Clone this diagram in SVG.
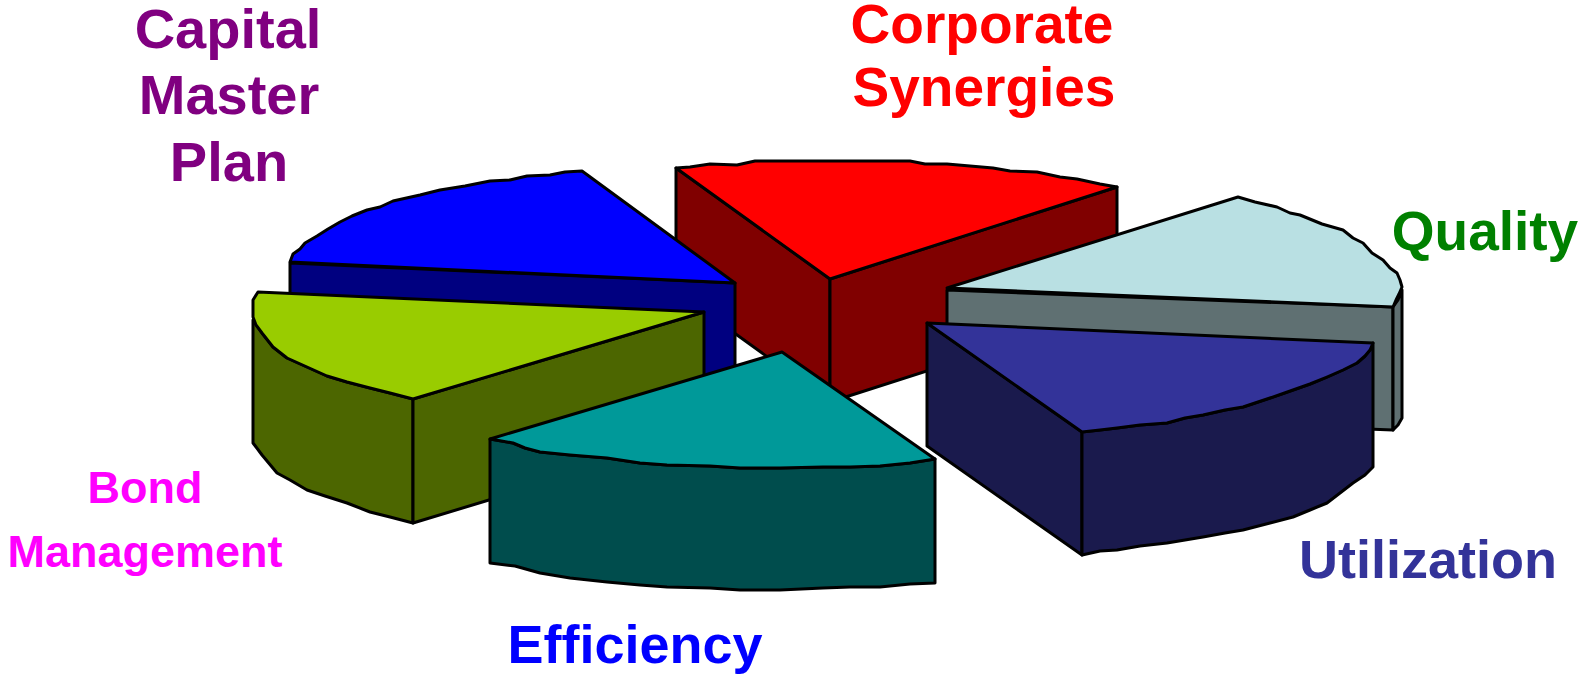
<svg xmlns="http://www.w3.org/2000/svg" width="1581" height="674" viewBox="0 0 1581 674">
<style>
  .e { stroke: #000; stroke-width: 3; stroke-linejoin: round; }
  .lbl { font-family: "Liberation Sans", Arial, sans-serif; font-weight: bold; text-anchor: middle; }
</style>
<rect width="1581" height="674" fill="#fff"/>
<g id="corporate-synergies">
  <polygon class="e" fill="#800000" points="676,168 830,279 830,402 676,291"/>
  <polygon class="e" fill="#800000" points="830,279 1117,187 1117,310 830,402"/>
  <path class="e" fill="#FF0000" d="M676,168 L690,167 710,164 737,165 755,161 910,161 925,164 947,164 993,168 1010,171 1037,172 1060,177 1077,179 1100,184 1117,187 L830,279 Z"/>
  <text class="lbl" fill="#FF0000" font-size="55" x="982" y="43">Corporate</text>
  <text class="lbl" fill="#FF0000" font-size="55" x="984" y="106">Synergies</text>
</g>
<g id="capital-master-plan">
  <polygon class="e" fill="#000080" points="290,263 735,283 735,406 290,386"/>
  <path class="e" fill="#0000FF" d="M290,262 L293,254 300,249 305,243 317,236 328,229 340,222 352,216 367,210 380,207 393,201 420,195 440,190 465,186 490,181 510,180 527,176 550,175 565,172 582,171 L735,283 Z"/>
  <text class="lbl" fill="#800080" font-size="56" x="228" y="48">Capital</text>
  <text class="lbl" fill="#800080" font-size="56" x="229" y="114">Master</text>
  <text class="lbl" fill="#800080" font-size="56" x="229" y="181">Plan</text>
</g>
<g id="quality">
  <polygon class="e" fill="#5F7072" points="947,290 1393,307 1393,430 947,413"/>
  <polygon class="e" fill="#5F7072" points="1393,307 1398,300 1402,290 1402,418 1398,425 1393,430"/>
  <path class="e" fill="#B9E0E3" d="M947,288 L1238,197 L1255,202 1277,207 1290,213 1300,215 1322,224 1343,230 1353,238 1363,243 1372,253 1383,260 1390,268 1397,273 1400,280 1402,287 1399,294 1396,300 1393,307 Z"/>
  <text class="lbl" fill="#008000" font-size="55" x="1485" y="250">Quality</text>
</g>
<g id="bond-management">
  <path class="e" fill="#4C6600" d="M413,399 L390,393 370,388 347,382 327,376 307,367 287,358 273,347 262,333 253,320 L253,443 L262,455 277,473 290,480 307,490 325,496 347,503 370,512 390,517 413,523 Z"/>
  <polygon class="e" fill="#4C6600" points="413,399 704,312 704,435 413,523"/>
  <path class="e" fill="#99CC00" d="M258,292 L704,312 L413,399 L390,393 370,388 347,382 327,376 307,367 287,358 273,347 262,333 256,325 253,317 253,300 Z"/>
  <text class="lbl" fill="#FF00FF" font-size="45" x="145" y="503">Bond</text>
  <text class="lbl" fill="#FF00FF" font-size="45" x="145" y="567">Management</text>
</g>
<g id="utilization">
  <polygon class="e" fill="#1A1A4D" points="927,323 1082,432 1082,555 927,446"/>
  <path class="e" fill="#1A1A4D" d="M1082,432 L1100,430 1117,428 1140,425 1167,423 1185,418 1203,415 1225,410 1243,407 1270,398 1293,390 1310,384 1327,377 1343,370 1357,363 1365,356 1370,350 1373,343 L1373,467 1365,475 1353,483 1340,493 1327,503 1310,510 1293,517 1270,523 1243,530 1225,533 1203,537 1185,540 1167,543 1140,546 1117,550 1100,551 1082,555 Z"/>
  <path class="e" fill="#333399" d="M927,323 L1373,343 L1370,350 1365,356 1357,363 1343,370 1327,377 1310,384 1293,390 1270,398 1243,407 1225,410 1203,415 1185,418 1167,423 1140,425 1117,428 1100,430 1082,432 Z"/>
  <text class="lbl" fill="#333399" font-size="54" x="1428" y="578">Utilization</text>
</g>
<g id="efficiency">
  <path class="e" fill="#004D4D" d="M490,439 L513,443 525,448 540,452 570,455 607,458 640,463 667,465 710,466 740,468 780,468 823,467 850,467 880,466 910,463 935,459 L935,583 910,584 880,587 850,587 823,588 780,590 740,590 710,588 667,587 640,585 607,582 570,578 540,573 515,566 490,563 Z"/>
  <path class="e" fill="#009999" d="M490,439 L782,352 L935,459 L910,463 880,466 850,467 823,467 780,468 740,468 710,466 667,465 640,463 607,458 570,455 540,452 525,448 513,443 Z"/>
  <text class="lbl" fill="#0000FF" font-size="54" x="635" y="663">Efficiency</text>
</g>
<g id="connectors"/>
</svg>
